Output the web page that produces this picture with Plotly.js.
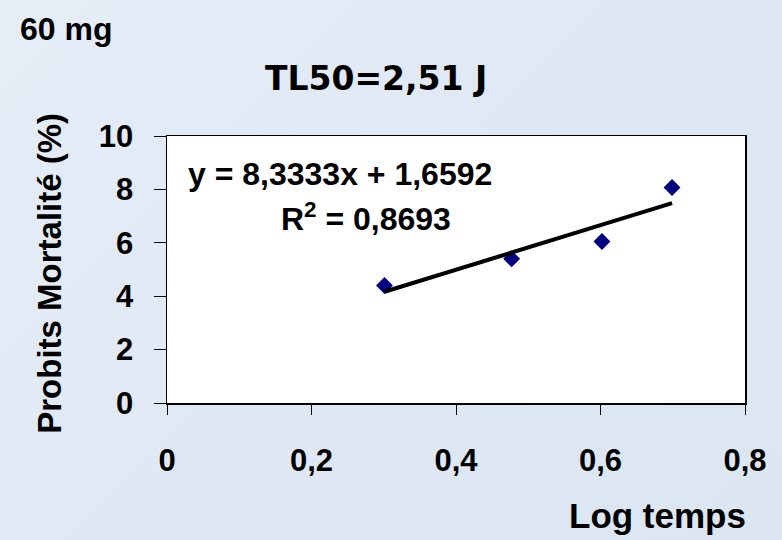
<!DOCTYPE html>
<html>
<head>
<meta charset="utf-8">
<script src="https://cdn.plot.ly/plotly-3.0.1.min.js"></script>
<style>
  html, body { margin: 0; padding: 0; background: #dfe9f4; }
  #chart { width: 782px; height: 540px; background: linear-gradient(135deg, #e5edf7 0%, #dfe8f4 50%, #dbe6f2 100%); }
</style>
</head>
<body>
<div id="chart"></div>
<script>
// Data
const logTemps = [0.301, 0.477, 0.602, 0.699];
const probits = [4.40, 5.40, 6.05, 8.07];
const slope = 8.3333;
const intercept = 1.6592;
const r2 = 0.8693;
const xTickVals = [0, 0.2, 0.4, 0.6, 0.8];
const xTickText = ["0", "0,2", "0,4", "0,6", "0,8"];
const yTickVals = [0, 2, 4, 6, 8, 10];
const yTickText = ["0", "2", "4", "6", "8", "10"];
const chartTitle = "TL50=2,51 J";
const doseLabel = "60 mg";
const xTitle = "Log temps";
const yTitle = "Probits Mortalité (%)";

const fmt = (v) => String(v).replace(".", ",");
const xMin = Math.min(...logTemps), xMax = Math.max(...logTemps);
const trendX = [xMin, xMax];
const trendY = trendX.map(x => slope * x + intercept);

const arial = "Liberation Sans, Arial, sans-serif";

const traces = [
  {
    x: logTemps, y: probits, type: "scatter", mode: "markers",
    marker: { symbol: "diamond", size: 13, color: "#000080" },
    hoverinfo: "skip", showlegend: false
  },
  {
    x: trendX, y: trendY, type: "scatter", mode: "lines",
    line: { color: "#000000", width: 4 },
    hoverinfo: "skip", showlegend: false
  }
];

const layout = {
  width: 782, height: 540,
  paper_bgcolor: "rgba(0,0,0,0)",
  plot_bgcolor: "#ffffff",
  margin: { l: 167, r: 37, t: 136, b: 137, pad: 0 },
  showlegend: false,
  xaxis: {
    range: [0, 0.8], tickvals: xTickVals, ticktext: xTickText,
    showgrid: false, zeroline: false,
    showline: true, linecolor: "#000000", linewidth: 1.5, mirror: true,
    ticks: "outside", ticklen: 10, tickcolor: "#000000", tickwidth: 1,
    ticklabelstandoff: 19,
    tickfont: { family: arial, size: 31, color: "#000000", weight: "bold" }
  },
  yaxis: {
    range: [0, 10], tickvals: yTickVals, ticktext: yTickText,
    showgrid: false, zeroline: false,
    showline: true, linecolor: "#000000", linewidth: 1.5, mirror: true,
    ticks: "outside", ticklen: 12, tickcolor: "#000000", tickwidth: 1,
    ticklabelstandoff: 14,
    tickfont: { family: arial, size: 31, color: "#000000", weight: "bold" }
  },
  annotations: [
    { text: "<b>" + chartTitle + "</b>", xref: "paper", yref: "paper",
      x: (376 - 167) / 578, y: 1 + (136 - 78) / 267.5, xanchor: "center", yanchor: "middle",
      showarrow: false, font: { family: "DejaVu Sans, Verdana, sans-serif", size: 33, color: "#000000" } },
    { text: "<b>" + doseLabel + "</b>", xref: "paper", yref: "paper",
      x: (18 - 167) / 578, y: 1 + (136 - 29) / 267.5, xanchor: "left", yanchor: "middle",
      showarrow: false, font: { family: arial, size: 32, color: "#000000" } },
    { text: "<b>" + xTitle + "</b>", xref: "paper", yref: "paper",
      x: (748 - 167) / 578, y: -(516 - 403.5) / 267.5, xanchor: "right", yanchor: "middle",
      showarrow: false, font: { family: arial, size: 35, color: "#000000" } },
    { text: "<b>" + yTitle + "</b>", xref: "paper", yref: "paper", textangle: -90,
      x: (50 - 167) / 578, y: (403.5 - 274) / 267.5, xanchor: "center", yanchor: "middle",
      showarrow: false, font: { family: arial, size: 33, color: "#000000" } },
    { text: "<b>y = " + fmt(slope) + "x + " + fmt(intercept) + "</b>", xref: "paper", yref: "paper",
      x: (340 - 167) / 578, y: (403.5 - 174) / 267.5, xanchor: "center", yanchor: "middle",
      showarrow: false, font: { family: arial, size: 32, color: "#000000" } },
    { text: "<b>R<sup>2</sup> = " + fmt(r2) + "</b>", xref: "paper", yref: "paper",
      x: (366 - 167) / 578, y: (403.5 - 217) / 267.5, xanchor: "center", yanchor: "middle",
      showarrow: false, font: { family: arial, size: 32, color: "#000000" } }
  ]
};

Plotly.newPlot("chart", traces, layout, { staticPlot: true, displayModeBar: false });
</script>
</body>
</html>
